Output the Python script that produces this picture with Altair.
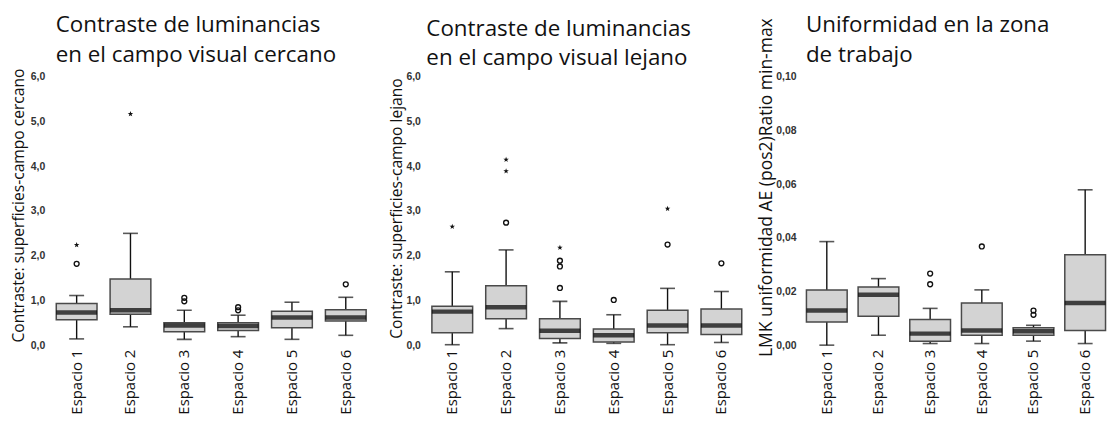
import altair as alt
import pandas as pd

cats = ["Espacio 1", "Espacio 2", "Espacio 3", "Espacio 4", "Espacio 5", "Espacio 6"]

# Panel 1: near visual field contrast
p1_lo = [0.14, 0.41, 0.13, 0.19, 0.13, 0.22]
p1_q1 = [0.57, 0.69, 0.30, 0.33, 0.39, 0.54]
p1_med = [0.73, 0.78, 0.44, 0.43, 0.62, 0.62]
p1_q3 = [0.93, 1.48, 0.50, 0.50, 0.76, 0.79]
p1_hi = [1.11, 2.50, 0.78, 0.67, 0.96, 1.07]
p1_circ_cat = ["Espacio 1", "Espacio 3", "Espacio 3", "Espacio 4", "Espacio 4", "Espacio 6"]
p1_circ_val = [1.82, 1.06, 0.98, 0.85, 0.78, 1.36]
p1_star_cat = ["Espacio 1", "Espacio 2"]
p1_star_val = [2.24, 5.17]

# Panel 2: far visual field contrast
p2_lo = [0.01, 0.37, 0.05, 0.04, 0.01, 0.06]
p2_q1 = [0.28, 0.59, 0.15, 0.07, 0.28, 0.24]
p2_med = [0.75, 0.85, 0.32, 0.22, 0.44, 0.44]
p2_q3 = [0.87, 1.33, 0.59, 0.36, 0.78, 0.81]
p2_hi = [1.64, 2.13, 0.98, 0.68, 1.27, 1.20]
p2_circ_cat = ["Espacio 2", "Espacio 3", "Espacio 3", "Espacio 3", "Espacio 4", "Espacio 5", "Espacio 6"]
p2_circ_val = [2.74, 1.28, 1.76, 1.89, 1.01, 2.25, 1.83]
p2_star_cat = ["Espacio 1", "Espacio 2", "Espacio 2", "Espacio 3", "Espacio 5"]
p2_star_val = [2.65, 3.89, 4.15, 2.18, 3.05]

# Panel 3: uniformity in work zone
p3_lo = [0.0, 0.0037, 0.0006, 0.0006, 0.0015, 0.0006]
p3_q1 = [0.0086, 0.0108, 0.0015, 0.0037, 0.0037, 0.0055]
p3_med = [0.0129, 0.0188, 0.0043, 0.0055, 0.0052, 0.0157]
p3_q3 = [0.0206, 0.0217, 0.0096, 0.0157, 0.0065, 0.0337]
p3_hi = [0.0386, 0.0248, 0.0137, 0.0206, 0.0074, 0.0579]
p3_circ_cat = ["Espacio 3", "Espacio 3", "Espacio 4", "Espacio 5", "Espacio 5"]
p3_circ_val = [0.0267, 0.0227, 0.0368, 0.0129, 0.0113]
p3_star_cat = []
p3_star_val = []

STAR = ("M0,-1L0.24,-0.33L0.95,-0.31L0.38,0.12L0.59,0.81L0,0.4L-0.59,0.81"
        "L-0.38,0.12L-0.95,-0.31L-0.24,-0.33Z")


def panel(lo, q1, med, q3, hi, ccat, cval, scat, sval, title, ytitle,
          ticks, dec, domain, width, tx, ty, tfs, tdx, toff):
    box = pd.DataFrame({"cat": cats, "lo": lo, "q1": q1, "med": med, "q3": q3, "hi": hi})
    xs = alt.X("cat:N", sort=cats,
               scale=alt.Scale(paddingInner=0, paddingOuter=0),
               axis=alt.Axis(title=None, labelAngle=-90, labelFont="Open Sans",
                             labelFontSize=15, labelColor="#111", labelPadding=4,
                             domain=False, ticks=False))
    yaxis = alt.Axis(title=ytitle, values=ticks, grid=False, domain=False, ticks=False,
                     labelExpr=f"replace(format(datum.value, '.{dec}f'), '.', ',')",
                     labelFont="Liberation Sans", labelFontWeight="bold",
                     labelFontSize=10.5, labelColor="#333", labelPadding=5,
                     titleFont="Open Sans", titleFontSize=tfs, titleFontWeight="normal",
                     titleColor="#111", titleX=tx, titleY=ty,
                     titleBaseline="middle", titleAngle=270)
    ysc = alt.Scale(domain=domain, nice=False, zero=False)
    base = alt.Chart(box)
    whisk = base.mark_rule(color="#111", strokeWidth=1.4).encode(
        x=xs, y=alt.Y("lo:Q", scale=ysc, axis=yaxis), y2="hi:Q")
    cap_lo = base.mark_tick(color="#111", size=15, thickness=1.6).encode(x=xs, y="lo:Q")
    cap_hi = base.mark_tick(color="#111", size=15, thickness=1.6).encode(x=xs, y="hi:Q")
    bar = base.mark_bar(fill="#d3d3d3", stroke="#4a4a4a", strokeWidth=1.5, size=41).encode(
        x=xs, y="q1:Q", y2="q3:Q")
    medl = base.mark_tick(color="#000", size=41, thickness=4.5).encode(x=xs, y="med:Q")
    layers = [whisk, cap_lo, cap_hi, bar, medl]
    if ccat:
        cdf = pd.DataFrame({"cat": ccat, "val": cval})
        layers.append(alt.Chart(cdf).mark_point(shape="circle", filled=False, color="#111",
                                                 size=24, strokeWidth=1.4, opacity=1).encode(
            x=xs, y="val:Q"))
    if scat:
        sdf = pd.DataFrame({"cat": scat, "val": sval})
        layers.append(alt.Chart(sdf).mark_point(shape=STAR, filled=True, color="#111",
                                                 size=34, opacity=1).encode(
            x=xs, y="val:Q"))
    return alt.layer(*layers).properties(
        width=width, height=270,
        title=alt.TitleParams(text=title, anchor="start", font="Open Sans", fontSize=22.5,
                              fontWeight="normal", lineHeight=30, dx=tdx, offset=toff,
                              frame="group", color="#111"))


c1 = panel(p1_lo, p1_q1, p1_med, p1_q3, p1_hi, p1_circ_cat, p1_circ_val,
           p1_star_cat, p1_star_val,
           ["Contraste de luminancias", "en el campo visual cercano"],
           "Contraste: superficies-campo cercano",
           [0, 1, 2, 3, 4, 5, 6], 1, [0, 6], 325, -31, 129, 15.7, 6, 2)
c2 = panel(p2_lo, p2_q1, p2_med, p2_q3, p2_hi, p2_circ_cat, p2_circ_val,
           p2_star_cat, p2_star_val,
           ["Contraste de luminancias", "en el campo visual lejano"],
           "Contraste: superficies-campo lejano",
           [0, 1, 2, 3, 4, 5, 6], 1, [0, 6], 325, -29, 132, 15.7, 1, 2)
c3 = panel(p3_lo, p3_q1, p3_med, p3_q3, p3_hi, p3_circ_cat, p3_circ_val,
           p3_star_cat, p3_star_val,
           ["Uniformidad en la zona", "de trabajo"],
           "LMK uniformidad AE (pos2)Ratio min-max",
           [0, 0.02, 0.04, 0.06, 0.08, 0.10], 2, [0, 0.10], 312, -35, 111, 17.6, 5, -49)

chart = alt.hconcat(c1, c2, c3, spacing=53, bounds="flush").properties(
    padding={"left": 2, "top": 4, "right": 0, "bottom": 0},
    background="white",
).configure_view(stroke=None)

chart.save("out.html", embed_options={"renderer": "svg", "actions": False})
